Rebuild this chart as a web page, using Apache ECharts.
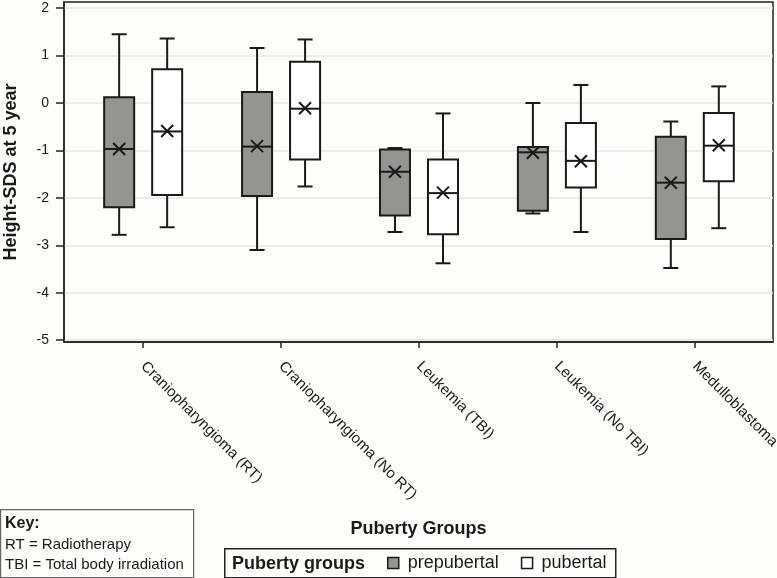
<!DOCTYPE html>
<html>
<head>
<meta charset="utf-8">
<script src="https://cdn.jsdelivr.net/npm/echarts@6/dist/echarts.min.js"></script>
<style>
html,body{margin:0;padding:0;background:#fdfdfa;}
#chart{width:777px;height:578px;}
</style>
</head>
<body>
<div id="chart"></div>
<script>
const categories = ['Craniopharyngioma (RT)', 'Craniopharyngioma (No RT)', 'Leukemia (TBI)', 'Leukemia (No TBI)', 'Medulloblastoma'];
const yTicks = [-5, -4, -3, -2, -1, 0, 1, 2];
const xTicks = [0, 1, 2, 3, 4];

// prepubertal
const preMin  = [-2.78, -3.10, -2.72, -2.33, -3.48];
const preQ1   = [-2.20, -1.96, -2.37, -2.27, -2.87];
const preMed  = [-0.97, -0.92, -1.45, -1.04, -1.68];
const preQ3   = [0.12, 0.23, -0.98, -0.93, -0.71];
const preMax  = [1.45, 1.16, -0.95, 0.00, -0.39];
const preMean = [-0.97, -0.91, -1.45, -1.05, -1.68];

// pubertal
const pubMin  = [-2.62, -1.76, -3.38, -2.72, -2.64];
const pubQ1   = [-1.94, -1.19, -2.77, -1.78, -1.65];
const pubMed  = [-0.60, -0.12, -1.90, -1.22, -0.90];
const pubQ3   = [0.71, 0.87, -1.19, -0.42, -0.21];
const pubMax  = [1.36, 1.34, -0.22, 0.38, 0.35];
const pubMean = [-0.59, -0.11, -1.89, -1.23, -0.89];

const FONT = "'Liberation Sans', Arial, sans-serif";
const INK = '#1a1a1a';

function rows(mn, q1, md, q3, mx, mean) {
  return categories.map((c, i) => [i, mn[i], q1[i], md[i], q3[i], mx[i], mean[i]]);
}

function makeRender(offsetPx, fill) {
  return function (params, api) {
    const xi = api.value(0);
    const cx = api.coord([xi, 0])[0] + offsetPx;
    const py = v => api.coord([xi, v])[1];
    const yMin = py(api.value(1)), yQ1 = py(api.value(2)), yMed = py(api.value(3));
    const yQ3 = py(api.value(4)), yMax = py(api.value(5)), yMean = py(api.value(6));
    const hw = 15, cap = 7.5, xs = 6;
    const ls = {stroke: INK, lineWidth: 2};
    return {
      type: 'group',
      children: [
        {type: 'line', shape: {x1: cx, y1: yMax, x2: cx, y2: yQ3}, style: ls},
        {type: 'line', shape: {x1: cx, y1: yQ1, x2: cx, y2: yMin}, style: ls},
        {type: 'line', shape: {x1: cx - cap, y1: yMax, x2: cx + cap, y2: yMax}, style: ls},
        {type: 'line', shape: {x1: cx - cap, y1: yMin, x2: cx + cap, y2: yMin}, style: ls},
        {type: 'rect', shape: {x: cx - hw, y: yQ3, width: hw * 2, height: yQ1 - yQ3}, style: {fill: fill, stroke: INK, lineWidth: 2}},
        {type: 'line', shape: {x1: cx - hw, y1: yMed, x2: cx + hw, y2: yMed}, style: ls},
        {type: 'line', shape: {x1: cx - xs, y1: yMean - xs, x2: cx + xs, y2: yMean + xs}, style: ls},
        {type: 'line', shape: {x1: cx - xs, y1: yMean + xs, x2: cx + xs, y2: yMean - xs}, style: ls}
      ]
    };
  };
}

const chart = echarts.init(document.getElementById('chart'), null, {renderer: 'canvas'});
chart.setOption({
  backgroundColor: '#fdfdfa',
  animation: false,
  grid: {left: 64, top: 2, width: 709, height: 340, containLabel: false, outerBoundsMode: 'none',
    show: true, borderColor: '#222', borderWidth: 1.5, backgroundColor: 'transparent'},
  xAxis: {
    type: 'value', min: -0.574, max: 4.567,
    name: 'Puberty Groups', nameLocation: 'middle', nameGap: 178, nameMoveOverlap: false,
    nameTextStyle: {fontFamily: FONT, fontSize: 18, fontWeight: 'bold', color: INK},
    axisLine: {show: true, onZero: false, lineStyle: {color: '#222', width: 1.5}},
    axisTick: {show: true, length: 6, customValues: xTicks, lineStyle: {color: '#222', width: 1.5}},
    axisLabel: {customValues: xTicks, rotate: -45, margin: 22, fontFamily: FONT, fontSize: 15, color: INK,
      formatter: v => categories[Math.round(v)] || ''},
    splitLine: {show: false}
  },
  yAxis: {
    type: 'value', min: -5.04, max: 2.13,
    name: 'Height-SDS at 5 year', nameLocation: 'middle', nameGap: 44, nameMoveOverlap: false,
    nameTextStyle: {fontFamily: FONT, fontSize: 18, fontWeight: 'bold', color: INK},
    axisLine: {show: true, onZero: false, lineStyle: {color: '#222', width: 1.5}},
    axisTick: {show: true, length: 8, customValues: yTicks, lineStyle: {color: '#222', width: 1.5}},
    axisLabel: {customValues: yTicks, margin: 15, fontFamily: FONT, fontSize: 14, color: INK},
    splitLine: {show: true, lineStyle: {color: '#e6e6e4', width: 1.5}}
  },
  legend: {
    left: 387, top: 554, padding: 0, itemWidth: 11, itemHeight: 11, itemGap: 22,
    icon: 'rect',
    textStyle: {fontFamily: FONT, fontSize: 18, color: INK, padding: [0, 0, 0, 4]},
    itemStyle: {borderColor: INK, borderWidth: 1.5},
    data: [
      {name: 'prepubertal', itemStyle: {color: '#949591', borderColor: INK, borderWidth: 1.5}},
      {name: 'pubertal', itemStyle: {color: '#ffffff', borderColor: INK, borderWidth: 1.5}}
    ]
  },
  graphic: [
    {type: 'rect', left: 0, top: 509, shape: {width: 193, height: 68}, style: {fill: '#fdfdfa', stroke: '#666', lineWidth: 1.2}},
    {type: 'text', left: 5, top: 516, style: {text: 'Key:', font: "bold 16px 'Liberation Sans', Arial, sans-serif", fill: INK}},
    {type: 'text', left: 5, top: 537, style: {text: 'RT = Radiotherapy', font: "15px 'Liberation Sans', Arial, sans-serif", fill: INK}},
    {type: 'text', left: 5, top: 557, style: {text: 'TBI = Total body irradiation', font: "15px 'Liberation Sans', Arial, sans-serif", fill: INK}},
    {type: 'rect', left: 224, top: 548, shape: {width: 391, height: 29}, style: {fill: 'transparent', stroke: '#222', lineWidth: 1.5}, z: -1},
    {type: 'text', left: 232, top: 555, style: {text: 'Puberty groups', font: "bold 18px 'Liberation Sans', Arial, sans-serif", fill: INK}}
  ],
  series: [
    {name: 'prepubertal', type: 'custom', renderItem: makeRender(-24, '#949591'),
      itemStyle: {color: '#949591', borderColor: INK, borderWidth: 1.5},
      encode: {x: 0, y: [1, 2, 3, 4, 5, 6]}, data: rows(preMin, preQ1, preMed, preQ3, preMax, preMean)},
    {name: 'pubertal', type: 'custom', renderItem: makeRender(24, '#ffffff'),
      itemStyle: {color: '#ffffff', borderColor: INK, borderWidth: 1.5},
      encode: {x: 0, y: [1, 2, 3, 4, 5, 6]}, data: rows(pubMin, pubQ1, pubMed, pubQ3, pubMax, pubMean)}
  ]
});
</script>
</body>
</html>
